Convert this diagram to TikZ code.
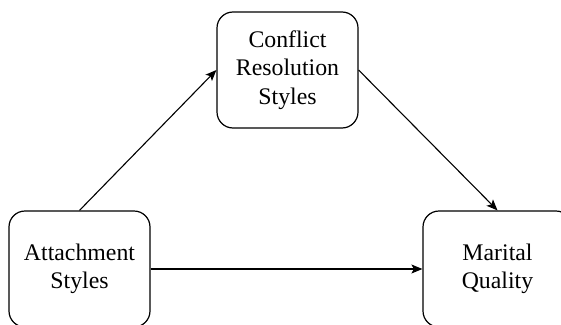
\documentclass[tikz,border=0pt]{standalone}
\usepackage{fontspec}
\setmainfont{Liberation Serif}
\usetikzlibrary{arrows.meta}

\tikzset{
  box/.style={draw, rounded corners=16pt, line width=1.2pt, minimum height=116pt,
    align=center, inner sep=0pt, font=\fontsize{23.8}{28.5}\selectfont},
}

\begin{document}
\begin{tikzpicture}[x=1pt, y=-1pt, >={Stealth[length=11pt, width=9pt, inset=2.5pt]}, line width=1.1pt]
    \useasboundingbox (0,0) rectangle (561,324);
    \node[box, minimum width=141pt] (attach) at (79.5, 269) {Attachment\\Styles};
    \node[box, minimum width=141pt] (conflict) at (287.5, 70) {Conflict\\Resolution\\Styles};
    \node[box, minimum width=149pt] (quality) at (497.5, 269) {Marital\\Quality};
    \draw[->] (attach.north) -- (conflict.west);
    \draw[->] (conflict.east) -- (quality.north);
    \draw[->] (attach.east) -- (quality.west);
  \end{tikzpicture}
\end{document}
